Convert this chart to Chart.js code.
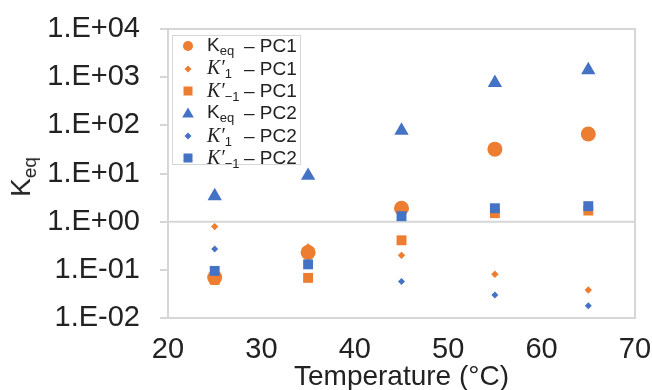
<!DOCTYPE html>
<html>
<head>
<meta charset="utf-8">
<script src="https://cdn.jsdelivr.net/npm/chart.js@4.4.1/dist/chart.umd.min.js"></script>
<style>
  body { margin: 0; background: #fff; }
  #wrap { position: relative; width: 652px; height: 390px; overflow: hidden; }
  #ytitle {
    position: absolute; left: 23px; top: 177px;
    transform: translate(-50%, -50%) rotate(-90deg);
    font: 28px "Liberation Sans", Arial, sans-serif; color: #222; white-space: nowrap;
  }
  #ytitle sub { font-size: 19px; vertical-align: -6px; }
  #legend {
    position: absolute; left: 172px; top: 35px; width: 129px; height: 130px;
    border: 1.5px solid #d6d6d6; background: #fff; box-sizing: border-box;
  }
  .row { position: absolute; left: 0; height: 22px; display: flex; align-items: center;
    font: 19px "Liberation Sans", Arial, sans-serif; color: #222; white-space: nowrap; }
  .row svg { margin-left: 8px; width: 14px; height: 14px; }
  .sym { display: inline-block; width: 37px; margin-left: 12px; }
  .sym i { font-family: "Liberation Serif", "Times New Roman", serif; font-size: 20px; }
  .sym sub { font-size: 13px; vertical-align: -4px; }
</style>
</head>
<body>
<div id="wrap">
  <canvas id="chart" width="652" height="390"></canvas>
  <div id="ytitle">K<sub>eq</sub></div>
  <div id="legend"></div>
</div>
<script>
// dados
const temps = [25, 35, 45, 55, 65];
const keqPC1 = [0.069, 0.23, 1.9, 32, 66];
const k1PC1 = [0.79, 0.30, 0.20, 0.081, 0.038];
const km1PC1 = [0.062, 0.068, 0.41, 1.5, 1.7];
const keqPC2 = [3.4, 9, 78, 760, 1400];
const k1PC2 = [0.27, 0.13, 0.057, 0.030, 0.018];
const km1PC2 = [0.095, 0.13, 1.3, 1.9, 2.1];

const yTicks = [0.01, 0.1, 1, 10, 100, 1000, 10000];
const yTickLabels = ['1.E-02', '1.E-01', '1.E+00', '1.E+01', '1.E+02', '1.E+03', '1.E+04'];

const seriesNames = ['K<sub>eq</sub>', '<i>K′</i><sub>1</sub>', '<i>K′</i><sub>−1</sub>',
                     'K<sub>eq</sub>', '<i>K′</i><sub>1</sub>', '<i>K′</i><sub>−1</sub>'];
const seriesSuffix = ['PC1', 'PC1', 'PC1', 'PC2', 'PC2', 'PC2'];

const ORANGE = '#ED7D31';
const BLUE = '#4472C4';

function pts(values) {
    return values.map((v, i) => ({ x: temps[i], y: v }));
}

function serie(values, color, style, radius, idx) {
    return {
        data: pts(values),
        backgroundColor: color,
        borderColor: color,
        borderWidth: 0,
        pointStyle: style,
        pointRadius: radius,
        showLine: false,
        order: 6 - idx // series mais tardias por cima, como no Excel
    };
}

const datasets = [
    serie(keqPC1, ORANGE, 'circle', 7.5, 0),
    serie(k1PC1, ORANGE, 'rectRot', 3.7, 1),
    serie(km1PC1, ORANGE, 'rect', 7, 2),
    serie(keqPC2, BLUE, 'triangle', 8.3, 3),
    serie(k1PC2, BLUE, 'rectRot', 3.5, 4),
    serie(km1PC2, BLUE, 'rect', 7, 5)
];

// moldura da área do gráfico e linha em y = 1
const framePlugin = {
    id: 'frame',
    beforeDatasetsDraw(chart) {
        const { ctx, chartArea: a } = chart;
        const y1 = chart.scales.y.getPixelForValue(1);
        ctx.save();
        ctx.strokeStyle = '#d6d6d6';
        ctx.lineWidth = 2;
        ctx.strokeRect(a.left, a.top, a.right - a.left, a.bottom - a.top);
        ctx.beginPath();
        ctx.moveTo(a.left, y1);
        ctx.lineTo(a.right, y1);
        ctx.stroke();
        ctx.restore();
    }
};

const tickFont = { family: '"Liberation Sans", Arial, sans-serif', size: 29 };

new Chart(document.getElementById('chart'), {
    type: 'scatter',
    data: { datasets: datasets },
    options: {
        responsive: false,
        animation: false,
        devicePixelRatio: 1,
        layout: { padding: { left: 0, right: 17, top: 29, bottom: 0 } },
        plugins: { legend: { display: false }, tooltip: { enabled: false } },
        scales: {
            x: {
                type: 'linear',
                min: 20,
                max: 70,
                ticks: { stepSize: 10, font: tickFont, color: '#222', padding: 15 },
                grid: { display: false, drawTicks: false },
                border: { display: false },
                title: {
                    display: true,
                    text: 'Temperature (°C)',
                    font: { family: '"Liberation Sans", Arial, sans-serif', size: 28, lineHeight: 0.9 },
                    color: '#222',
                    padding: { top: 0, bottom: 0 }
                },
                afterFit: (s) => { s.height = 72; s.paddingLeft = 0; s.paddingRight = 0; }
            },
            y: {
                type: 'logarithmic',
                min: 0.01,
                max: 10000,
                afterBuildTicks: (s) => { s.ticks = yTicks.map(v => ({ value: v })); },
                ticks: {
                    font: tickFont,
                    color: '#222',
                    padding: 20,
                    callback: (v, i) => yTickLabels[i]
                },
                grid: { drawOnChartArea: false, drawTicks: true, tickLength: 8, color: '#d6d6d6', lineWidth: 2 },
                border: { display: false },
                afterFit: (s) => { s.width = 168; s.paddingTop = 0; s.paddingBottom = 0; }
            }
        }
    },
    plugins: [framePlugin]
});

// legenda em HTML (por causa dos subscritos)
function markerSvg(style, color) {
    if (style === 'circle') return `<svg viewBox="0 0 14 14"><circle cx="7" cy="7" r="5" fill="${color}"/></svg>`;
    if (style === 'rectRot') return `<svg viewBox="0 0 14 14"><polygon points="7,3.5 10.5,7 7,10.5 3.5,7" fill="${color}"/></svg>`;
    if (style === 'rect') return `<svg viewBox="0 0 14 14"><rect x="2.5" y="2.5" width="9" height="9" fill="${color}"/></svg>`;
    return `<svg viewBox="0 0 14 14"><polygon points="7,1.5 12.8,11.5 1.2,11.5" fill="${color}"/></svg>`;
}

const legendEl = document.getElementById('legend');
const rowCenters = [10, 32.5, 55, 77, 100, 122];
datasets.forEach((ds, i) => {
    const row = document.createElement('div');
    row.className = 'row';
    row.style.top = (rowCenters[i] - 11) + 'px';
    row.innerHTML = markerSvg(ds.pointStyle, ds.backgroundColor) +
        `<span class="sym">${seriesNames[i]}</span><span>– ${seriesSuffix[i]}</span>`;
    legendEl.appendChild(row);
});
</script>
</body>
</html>
